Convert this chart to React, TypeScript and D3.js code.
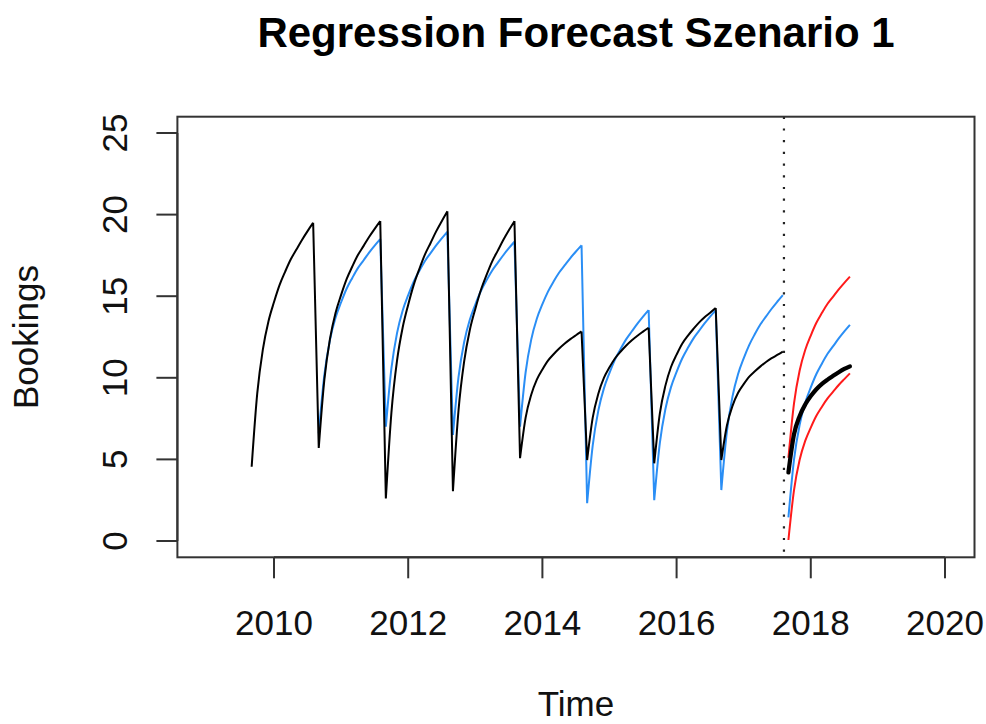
import React from "react";
import * as d3 from "d3";

// ---- data (monthly time series, frequency 12) ----
const actualStart = 2009 + 8 / 12; // Sep 2009
const actual = [
  4.55, 9.04, 11.73, 13.45, 14.64, 15.69, 16.51, 17.26, 17.86, 18.45, 18.99, 19.5,
  5.7, 9.87, 12.37, 13.97, 15.08, 16.06, 16.82, 17.52, 18.07, 18.63, 19.13, 19.6,
  2.6, 7.88, 11.05, 13.07, 14.48, 15.71, 16.68, 17.56, 18.26, 18.97, 19.6, 20.2,
  3.05, 8.02, 10.99, 12.9, 14.22, 15.38, 16.29, 17.12, 17.78, 18.44, 19.04, 19.6,
  5.07, 7.56, 8.96, 9.89, 10.51, 11.05, 11.44, 11.79, 12.1, 12.37, 12.61, 12.84,
  4.96, 7.56, 9.02, 9.99, 10.64, 11.2, 11.61, 11.98, 12.3, 12.58, 12.83, 13.07,
  4.76, 7.81, 9.52, 10.66, 11.42, 12.09, 12.57, 12.99, 13.38, 13.71, 13.99, 14.28,
  4.96, 7.08, 8.28, 9.08, 9.61, 10.07, 10.4, 10.7, 10.97, 11.2, 11.4, 11.6,
];

const fittedStart = 2010 + 8 / 12; // Sep 2010
const fitted = [
  6.6, 10.17, 12.31, 13.68, 14.63, 15.47, 16.12, 16.72, 17.19, 17.67, 18.1, 18.5,
  7.0, 10.59, 12.74, 14.11, 15.07, 15.9, 16.56, 17.16, 17.64, 18.11, 18.54, 18.95,
  6.5, 10.05, 12.18, 13.54, 14.49, 15.32, 15.97, 16.56, 17.04, 17.51, 17.94, 18.34,
  7.0, 10.34, 12.34, 13.62, 14.51, 15.28, 15.9, 16.45, 16.9, 17.34, 17.74, 18.12,
  2.31, 5.86, 7.99, 9.35, 10.3, 11.13, 11.78, 12.37, 12.85, 13.32, 13.75, 14.15,
  2.5, 6.0, 8.09, 9.43, 10.36, 11.18, 11.82, 12.4, 12.87, 13.33, 13.75, 14.15,
  3.12, 6.71, 8.86, 10.23, 11.19, 12.02, 12.68, 13.28, 13.76, 14.23, 14.66, 15.07,
];

const forecastStart = 2017 + 8 / 12; // Sep 2017
const forecastMean = [4.2, 6.54, 7.65, 8.36, 8.88, 9.3, 9.63, 9.89, 10.12, 10.34, 10.54, 10.7];
const forecastRegression = [1.45, 4.99, 7.11, 8.47, 9.41, 10.23, 10.88, 11.47, 11.94, 12.41, 12.84, 13.24];
const forecastUpper = [5.1, 8.43, 10.43, 11.7, 12.59, 13.37, 13.98, 14.54, 14.98, 15.42, 15.82, 16.2];
const forecastLower = [0.06, 3.12, 4.96, 6.13, 6.95, 7.67, 8.23, 8.74, 9.15, 9.56, 9.92, 10.27];

const cutoffYear = 2017.6;
const monthsPerSeason = 12;

const xTicks = [2010, 2012, 2014, 2016, 2018, 2020];
const yTicks = [0, 5, 10, 15, 20, 25];
const xLimits = [2009, 2020];
const yLimits = [0, 25];

const title = "Regression Forecast Szenario 1";
const xLabel = "Time";
const yLabel = "Bookings";

// ---- layout ----
const W = 986;
const H = 724;
const plotLeft = 177.4;
const plotRight = 974.5;
const plotTop = 116.7;
const plotBottom = 557.3;
const FONT = "'Liberation Sans', Arial, Helvetica, sans-serif";

type Pt = { t: number; v: number };
const toPoints = (start: number, vals: number[]): Pt[] =>
  vals.map((v, i) => ({ t: start + i / 12, v }));

export default function App() {
  const xPad = (xLimits[1] - xLimits[0]) * 0.04;
  const yPad = (yLimits[1] - yLimits[0]) * 0.04;
  const x = d3
    .scaleLinear()
    .domain([xLimits[0] - xPad, xLimits[1] + xPad])
    .range([plotLeft, plotRight]);
  const y = d3
    .scaleLinear()
    .domain([yLimits[0] - yPad, yLimits[1] + yPad])
    .range([plotBottom, plotTop]);

  const smooth = d3
    .line<Pt>()
    .x((d) => x(d.t))
    .y((d) => y(d.v))
    .curve(d3.curveMonotoneX);
  const straight = d3
    .line<Pt>()
    .x((d) => x(d.t))
    .y((d) => y(d.v));

  // smooth within each season, straight drops between seasons
  const seasonalPath = (start: number, vals: number[]) => {
    const pts = toPoints(start, vals);
    let d = "";
    for (let i = 0; i < pts.length; i += monthsPerSeason) {
      const seg = pts.slice(i, i + monthsPerSeason);
      d += smooth(seg) || "";
      if (i + monthsPerSeason < pts.length) {
        d += straight([pts[i + monthsPerSeason - 1], pts[i + monthsPerSeason]]) || "";
      }
    }
    return d;
  };

  const blue = "#2a8ef5";
  const red = "#ff1a1a";

  return (
    <svg
      width={W}
      height={H}
      viewBox={`0 0 ${W} ${H}`}
      style={{ position: "absolute", left: 0, top: 0, background: "#fff" }}
      fontFamily={FONT}
    >
      <rect x={0} y={0} width={W} height={H} fill="#fff" />
      {/* title */}
      <text x={576} y={47} textAnchor="middle" fontSize={42} fontWeight="bold" fill="#000">
        {title}
      </text>

      {/* series */}
      <path d={seasonalPath(fittedStart, fitted)} fill="none" stroke={blue} strokeWidth={2} strokeLinejoin="round" />
      <path d={seasonalPath(actualStart, actual)} fill="none" stroke="#000" strokeWidth={2} strokeLinejoin="round" />

      {/* cutoff */}
      <line
        x1={x(cutoffYear)}
        x2={x(cutoffYear)}
        y1={plotTop}
        y2={plotBottom}
        stroke="#222"
        strokeWidth={2.2}
        strokeDasharray="2.2 9.5"
      />

      {/* forecast */}
      <path d={seasonalPath(forecastStart, forecastUpper)} fill="none" stroke={red} strokeWidth={2} />
      <path d={seasonalPath(forecastStart, forecastLower)} fill="none" stroke={red} strokeWidth={2} />
      <path d={seasonalPath(forecastStart, forecastRegression)} fill="none" stroke={blue} strokeWidth={2} />
      <path
        d={seasonalPath(forecastStart, forecastMean)}
        fill="none"
        stroke="#000"
        strokeWidth={4.2}
        strokeLinecap="round"
      />

      {/* box */}
      <rect
        x={plotLeft}
        y={plotTop}
        width={plotRight - plotLeft}
        height={plotBottom - plotTop}
        fill="none"
        stroke="#333"
        strokeWidth={2}
      />

      {/* x axis */}
      <line
        x1={x(xTicks[0])}
        x2={x(xTicks[xTicks.length - 1])}
        y1={plotBottom}
        y2={plotBottom}
        stroke="#333"
        strokeWidth={2}
      />
      {xTicks.map((t) => (
        <g key={`xt${t}`}>
          <line x1={x(t)} x2={x(t)} y1={plotBottom} y2={plotBottom + 21} stroke="#333" strokeWidth={2} />
          <text x={x(t)} y={635} textAnchor="middle" fontSize={35} fill="#111">
            {t}
          </text>
        </g>
      ))}

      {/* y axis */}
      <line
        x1={plotLeft}
        x2={plotLeft}
        y1={y(yTicks[0])}
        y2={y(yTicks[yTicks.length - 1])}
        stroke="#333"
        strokeWidth={2}
      />
      {yTicks.map((t) => (
        <g key={`yt${t}`}>
          <line x1={plotLeft - 21} x2={plotLeft} y1={y(t)} y2={y(t)} stroke="#333" strokeWidth={2} />
          <text
            transform={`translate(127,${y(t)}) rotate(-90)`}
            textAnchor="middle"
            fontSize={35}
            fill="#111"
          >
            {t}
          </text>
        </g>
      ))}

      {/* axis labels */}
      <text x={576} y={716} textAnchor="middle" fontSize={35} fill="#111">
        {xLabel}
      </text>
      <text
        transform={`translate(38,${(plotTop + plotBottom) / 2}) rotate(-90)`}
        textAnchor="middle"
        fontSize={35}
        fill="#111"
      >
        {yLabel}
      </text>
    </svg>
  );
}
